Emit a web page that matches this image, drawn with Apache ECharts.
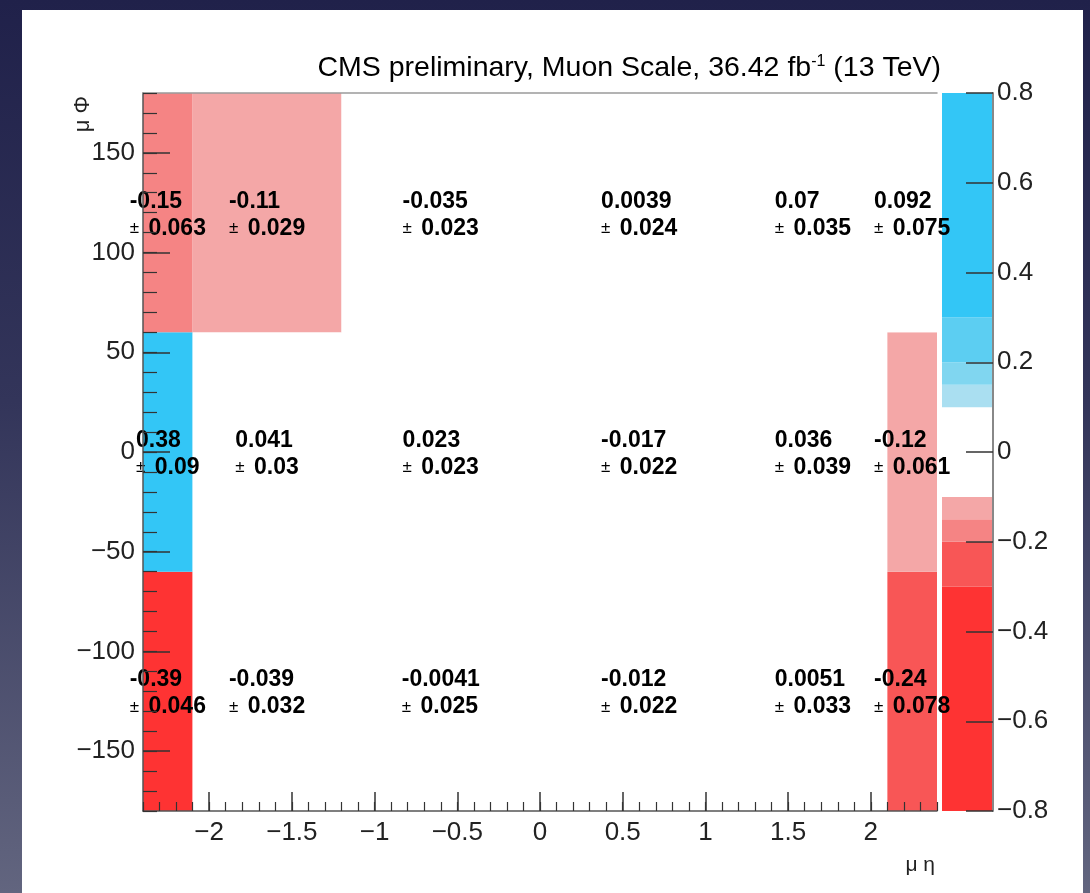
<!DOCTYPE html>
<html>
<head>
<meta charset="utf-8">
<script src="https://cdn.jsdelivr.net/npm/echarts@6/dist/echarts.min.js"></script>
<style>
  html, body { margin: 0; padding: 0; width: 1090px; height: 893px; overflow: hidden;
    background: linear-gradient(to bottom, #20214a 0%, #33355a 45%, #62657f 100%); }
  #sheet { position: absolute; left: 22px; top: 10px; width: 1061px; height: 883px; background: #ffffff; }
  #chart { position: absolute; left: 0; top: 0; width: 1090px; height: 893px; }
</style>
</head>
<body>
<div id="sheet"></div>
<div id="chart"></div>
<script>
// Bin edges of the 2D histogram (muon eta vs muon phi)
const etaEdges = [-2.4, -2.1, -1.2, 0, 1.2, 2.1, 2.4];
const phiEdges = [-180, -60, 60, 180];

// Fitted scale per eta bin, one array per phi row (bottom to top)
const scaleLow  = [-0.39, -0.039, -0.0041, -0.012, 0.0051, -0.24];
const errLow    = [0.046, 0.032, 0.025, 0.022, 0.033, 0.078];
const scaleMid  = [0.38, 0.041, 0.023, -0.017, 0.036, -0.12];
const errMid    = [0.09, 0.03, 0.023, 0.022, 0.039, 0.061];
const scaleHigh = [-0.15, -0.11, -0.035, 0.0039, 0.07, 0.092];
const errHigh   = [0.063, 0.029, 0.023, 0.024, 0.035, 0.075];

// Tick labels
const etaTicks = [-2, -1.5, -1, -0.5, 0, 0.5, 1, 1.5, 2];
const phiTicks = [-150, -100, -50, 0, 50, 100, 150];

// Discrete colour levels of the z scale
const levelLow    = [-0.8, -0.3, -0.2, -0.15, -0.1, 0.1, 0.15, 0.2, 0.3];
const levelHigh   = [-0.3, -0.2, -0.15, -0.1, 0.1, 0.15, 0.2, 0.3, 0.8];
const levelColors = ['#fe3333', '#f85656', '#f58484', '#f4a7a7', '#ffffff',
                     '#aadff1', '#80d6f0', '#5ccef2', '#33c6f6'];

const FONT = '"Liberation Sans", Arial, Helvetica, sans-serif';
const minus = s => String(s).replace('-', '\u2212');

function levelIndex(v) {
  let best = -1, bestMid = -1;
  for (let i = 0; i < levelLow.length; i++) {
    if (v >= levelLow[i] && v <= levelHigh[i]) {
      const m = Math.abs(levelLow[i] + levelHigh[i]);
      if (m > bestMid) { bestMid = m; best = i; }
    }
  }
  return best < 0 ? 4 : best;
}

// Build cell records: [etaLo, etaHi, phiLo, phiHi, value, error]
const rows = [[scaleLow, errLow], [scaleMid, errMid], [scaleHigh, errHigh]];
const cells = [];
rows.forEach((r, j) => {
  r[0].forEach((v, i) => {
    cells.push([etaEdges[i], etaEdges[i + 1], phiEdges[j], phiEdges[j + 1], v, r[1][i]]);
  });
});

const levels = levelLow.map((lo, i) => [0, 1, lo, levelHigh[i], i]);

const cellRich = {
  v:  { fontFamily: FONT, fontSize: 23, fontWeight: 'bold', color: '#111', align: 'left', lineHeight: 27 },
  pm: { fontFamily: FONT, fontSize: 17, color: '#333', align: 'left', lineHeight: 27, padding: [0, 3, 0, 0] },
  e:  { fontFamily: FONT, fontSize: 23, fontWeight: 'bold', color: '#111', align: 'left', lineHeight: 27 }
};

function renderCell(params, api) {
  const x0 = api.value(0), x1 = api.value(1), y0 = api.value(2), y1 = api.value(3);
  const v = api.value(4), e = api.value(5);
  const a = api.coord([x0, y1]);
  const b = api.coord([x1, y0]);
  const cx = (a[0] + b[0]) / 2, cy = (a[1] + b[1]) / 2;
  return {
    type: 'group',
    children: [
      { type: 'rect', shape: { x: a[0], y: a[1], width: b[0] - a[0], height: b[1] - a[1] },
        style: { fill: levelColors[levelIndex(v)] } },
      { type: 'text', x: cx, y: cy + 2, z2: 20,
        style: { text: '{v|' + String(v) + '}\n{pm|\u00b1}{e| ' + String(e) + '}',
                 align: 'center', verticalAlign: 'middle', rich: cellRich } }
    ]
  };
}

function renderLevel(params, api) {
  const a = api.coord([0, api.value(3)]);
  const b = api.coord([1, api.value(2)]);
  return { type: 'rect', shape: { x: a[0], y: a[1], width: b[0] - a[0], height: b[1] - a[1] },
           style: { fill: levelColors[api.value(4)] } };
}

const labelStyle = { fontFamily: FONT, fontSize: 26, color: '#222' };

const chart = echarts.init(document.getElementById('chart'), null, { renderer: 'canvas' });
chart.setOption({
  backgroundColor: 'transparent',
  animation: false,
  grid: [
    { left: 143, top: 93, width: 794, height: 718 },
    { left: 942, top: 93, width: 51, height: 718 }
  ],
  xAxis: [
    { gridIndex: 0, type: 'value', min: -2.4, max: 2.4, position: 'bottom', z: 10,
      axisLine: { onZero: false, lineStyle: { color: '#555', width: 1.5 } },
      axisTick: { inside: true, length: 19, customValues: etaTicks, lineStyle: { color: '#333', width: 1.5 } },
      axisLabel: { customValues: etaTicks, margin: 9, formatter: v => minus(v), ...labelStyle },
      splitLine: { show: false } },
    { gridIndex: 0, type: 'value', min: -2.4, max: 2.4, interval: 0.1, position: 'bottom', z: 10,
      axisLine: { show: false, onZero: false },
      axisTick: { inside: true, length: 9, lineStyle: { color: '#333', width: 1.2 } },
      axisLabel: { show: false }, splitLine: { show: false } },
    { gridIndex: 0, type: 'value', min: -2.4, max: 2.4, position: 'top', z: 10,
      axisLine: { onZero: false, lineStyle: { color: '#9a9a9a', width: 1.5 } },
      axisTick: { show: false }, axisLabel: { show: false }, splitLine: { show: false } },
    { gridIndex: 1, type: 'value', min: 0, max: 1, show: false }
  ],
  yAxis: [
    { gridIndex: 0, type: 'value', min: -180, max: 180, position: 'left', z: 10,
      axisLine: { onZero: false, lineStyle: { color: '#555', width: 1.5 } },
      axisTick: { inside: true, length: 27, customValues: phiTicks, lineStyle: { color: '#333', width: 1.5 } },
      axisLabel: { customValues: phiTicks, margin: 8, formatter: v => minus(v), ...labelStyle },
      splitLine: { show: false } },
    { gridIndex: 0, type: 'value', min: -180, max: 180, interval: 10, position: 'left', z: 10,
      axisLine: { show: false, onZero: false },
      axisTick: { inside: true, length: 14, lineStyle: { color: '#333', width: 1.2 } },
      axisLabel: { show: false }, splitLine: { show: false } },
    { gridIndex: 1, type: 'value', min: -0.8, max: 0.8, interval: 0.2, position: 'right', z: 10,
      axisLine: { onZero: false, lineStyle: { color: '#888', width: 2 } },
      axisTick: { inside: true, length: 27, lineStyle: { color: '#333', width: 1.5 } },
      axisLabel: { margin: 4, formatter: v => minus(Math.round(v * 10) / 10), ...labelStyle },
      splitLine: { show: false } }
  ],
  series: [
    { type: 'custom', name: 'scale', xAxisIndex: 0, yAxisIndex: 0, z: 2, clip: false,
      renderItem: renderCell, encode: { x: [0, 1], y: [2, 3] }, data: cells },
    { type: 'custom', name: 'palette', xAxisIndex: 3, yAxisIndex: 2, z: 2,
      renderItem: renderLevel, encode: { x: [0, 1], y: [2, 3] }, data: levels }
  ],
  graphic: [
    { type: 'text', x: 941, y: 68, z: 50,
      style: { text: '{a|CMS preliminary, Muon Scale, 36.42 fb}{s|-1}{a| (13 TeV)}',
               align: 'right', verticalAlign: 'middle',
               rich: { a: { fontFamily: FONT, fontSize: 28.5, color: '#1c1c1c' },
                       s: { fontFamily: FONT, fontSize: 16, color: '#1c1c1c', verticalAlign: 'top' } } } },
    { type: 'text', x: 83, y: 96, rotation: Math.PI / 2, z: 50,
      style: { text: '\u03bc \u03a6', align: 'right', verticalAlign: 'middle',
               fontFamily: FONT, fontSize: 22, fill: '#222' } },
    { type: 'text', x: 935, y: 865, z: 50,
      style: { text: '\u03bc \u03b7', align: 'right', verticalAlign: 'middle',
               fontFamily: FONT, fontSize: 21, fill: '#222' } }
  ]
});
</script>
</body>
</html>
